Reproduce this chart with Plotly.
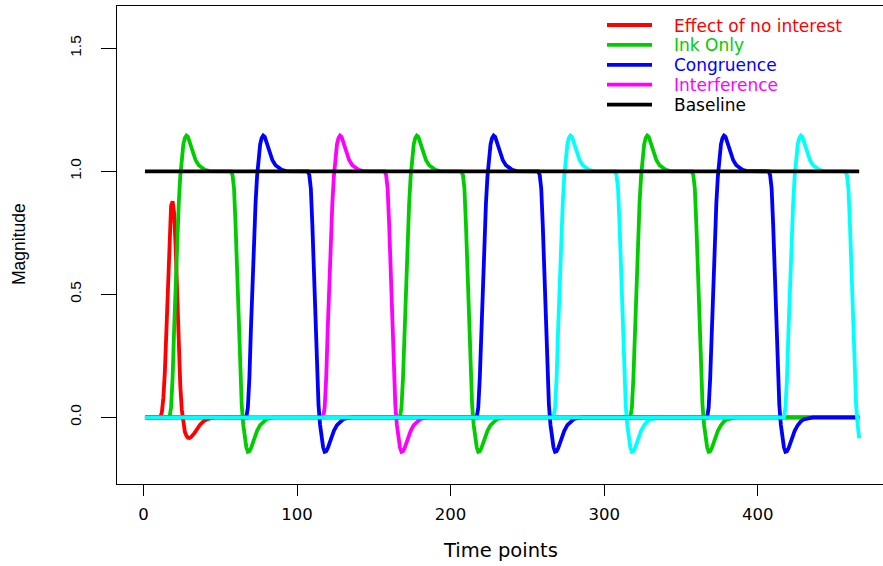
import plotly.graph_objects as go

# ---- data -------------------------------------------------------------
N_T = 466  # number of time points (scans)

# Single short event (effect of no interest), convolved response
EVENT_T = [1, 11, 12, 13, 14, 15, 16, 17, 18, 19, 20, 21, 22, 23, 24, 25, 26,
           27, 28, 29, 30, 31, 33, 35, 37, 39, 41, 44, 47, 466]
EVENT_Y = [0, 0, 0.02, 0.08, 0.19, 0.37, 0.57, 0.76, 0.86, 0.878, 0.83, 0.69,
           0.49, 0.30, 0.13, 0.03, -0.03, -0.060, -0.075, -0.083, -0.084,
           -0.080, -0.066, -0.046, -0.029, -0.017, -0.009, -0.003, 0, 0]

# Convolved response of one 40-scan block, time relative to block onset
BLOCK_REL = [0, 1, 2, 3, 4, 5, 6, 7, 8, 9, 10, 11, 12, 13, 14, 15, 17, 19, 21,
             23, 26, 40, 41, 42, 43, 44, 45, 46, 47, 48, 49, 50, 51, 52, 53,
             55, 57, 59, 61, 63, 66, 69]
BLOCK_RESP = [0.0, 0.04, 0.16, 0.36, 0.56, 0.73, 0.87, 0.98, 1.06, 1.11,
              1.135, 1.145, 1.14, 1.12, 1.095, 1.075, 1.045, 1.025, 1.013,
              1.006, 1.001, 1.0, 0.985, 0.93, 0.78, 0.58, 0.38, 0.20, 0.05,
              -0.03, -0.085, -0.122, -0.14, -0.138, -0.126, -0.09, -0.055,
              -0.032, -0.017, -0.008, -0.002, 0.0]

# Block onsets (scan index) for each condition
INK_ONLY_ONSETS = [17, 167, 317]
CONGRUENCE_ONSETS = [67, 217, 367]
INTERFERENCE_ONSETS = [117]
WORD_ONLY_A_ONSETS = [267]
WORD_ONLY_B_ONSETS = [417]

BASELINE_T = [1, 466]
BASELINE_Y = [1, 1]

X_TICKS = [0, 100, 200, 300, 400]
Y_TICKS = [0, 0.5, 1.0, 1.5]
Y_TICK_TEXT = ["0.0", "0.5", "1.0", "1.5"]

LEGEND_LABELS = ["Effect of no interest", "Ink Only", "Congruence",
                 "Interference", "Baseline"]

RED, GREEN, BLUE, MAGENTA, CYAN, BLACK = (
    "#FF0000", "#00CD00", "#0000FF", "#FF00FF", "#00FFFF", "#000000")
LEGEND_COLORS = [RED, GREEN, BLUE, MAGENTA, BLACK]


def regressor(onsets):
    """Full-length regressor built from the block response at each onset."""
    xs, ys = [1], [0.0]
    for onset in onsets:
        for rel, val in zip(BLOCK_REL, BLOCK_RESP):
            t = onset + rel
            if t <= N_T:
                xs.append(t)
                ys.append(val)
    if xs[-1] < N_T:
        xs.append(N_T)
        ys.append(0.0)
    return xs, ys


# ---- figure -----------------------------------------------------------
W, H = 883, 566
ML, MR, MT, MB = 117, 0, 6, 82
PW, PH = W - ML - MR, H - MT - MB


def px(x):
    return (x - ML) / PW


def py(y):
    return (H - MB - y) / PH


LW = 3.8
fig = go.Figure()
fig.add_trace(go.Scatter(x=EVENT_T, y=EVENT_Y, mode="lines",
                         line=dict(color=RED, width=LW),
                         name=LEGEND_LABELS[0]))
# drawing order decides which regressor shows on the shared zero line
for onsets, color, name in [
        (INTERFERENCE_ONSETS, MAGENTA, LEGEND_LABELS[3]),
        (WORD_ONLY_A_ONSETS, CYAN, "Word Only (a)"),
        (INK_ONLY_ONSETS, GREEN, LEGEND_LABELS[1]),
        (CONGRUENCE_ONSETS, BLUE, LEGEND_LABELS[2]),
        (WORD_ONLY_B_ONSETS, CYAN, "Word Only (b)")]:
    xs, ys = regressor(onsets)
    fig.add_trace(go.Scatter(x=xs, y=ys, mode="lines",
                             line=dict(color=color, width=LW), name=name))
fig.add_trace(go.Scatter(x=BASELINE_T, y=BASELINE_Y, mode="lines",
                         line=dict(color=BLACK, width=LW),
                         name=LEGEND_LABELS[4]))

# legend drawn as key lines plus coloured labels
shapes, annotations = [], []
for i, (label, color) in enumerate(zip(LEGEND_LABELS, LEGEND_COLORS)):
    yy = 25 + i * 19.9
    shapes.append(dict(type="line", xref="paper", yref="paper",
                       x0=px(607), x1=px(652), y0=py(yy), y1=py(yy),
                       line=dict(color=color, width=LW)))
    annotations.append(dict(text=label, xref="paper", yref="paper",
                            x=px(672), y=py(yy + 0.5), xanchor="left",
                            yanchor="middle", showarrow=False,
                            font=dict(family="DejaVu Sans", size=17,
                                      color=color)))

annotations.append(dict(text="Time points", xref="paper", yref="paper",
                        x=px(500.5), y=py(550), xanchor="center",
                        yanchor="middle", showarrow=False,
                        font=dict(family="DejaVu Sans", size=19.5,
                                  color="black")))
annotations.append(dict(text="Magnitude", xref="paper", yref="paper",
                        x=px(19), y=py(244), xanchor="center",
                        yanchor="middle", textangle=-90, showarrow=False,
                        font=dict(family="Liberation Sans", size=17.5,
                                  color="black")))

fig.update_layout(
    width=W, height=H,
    margin=dict(l=ML, r=MR, t=MT, b=MB, pad=0),
    paper_bgcolor="white", plot_bgcolor="white",
    showlegend=False,
    shapes=shapes, annotations=annotations,
    xaxis=dict(range=[-17.2, 481.5], tickvals=X_TICKS,
               showgrid=False, zeroline=False,
               showline=True, mirror=True, linecolor="black", linewidth=1,
               ticks="outside", ticklen=11, tickwidth=1, tickcolor="black",
               ticklabelstandoff=4,
               tickfont=dict(family="DejaVu Sans", size=16.5, color="black")),
    yaxis=dict(range=[-0.271, 1.672], tickvals=Y_TICKS, ticktext=Y_TICK_TEXT,
               showgrid=False, zeroline=False,
               showline=True, mirror=False, linecolor="black", linewidth=1,
               ticks="outside", ticklen=15, tickwidth=1, tickcolor="black",
               tickangle=-90, ticklabelstandoff=14,
               tickfont=dict(family="Liberation Sans", size=15.5,
                             color="black")),
)

fig.write_html("out.html")
